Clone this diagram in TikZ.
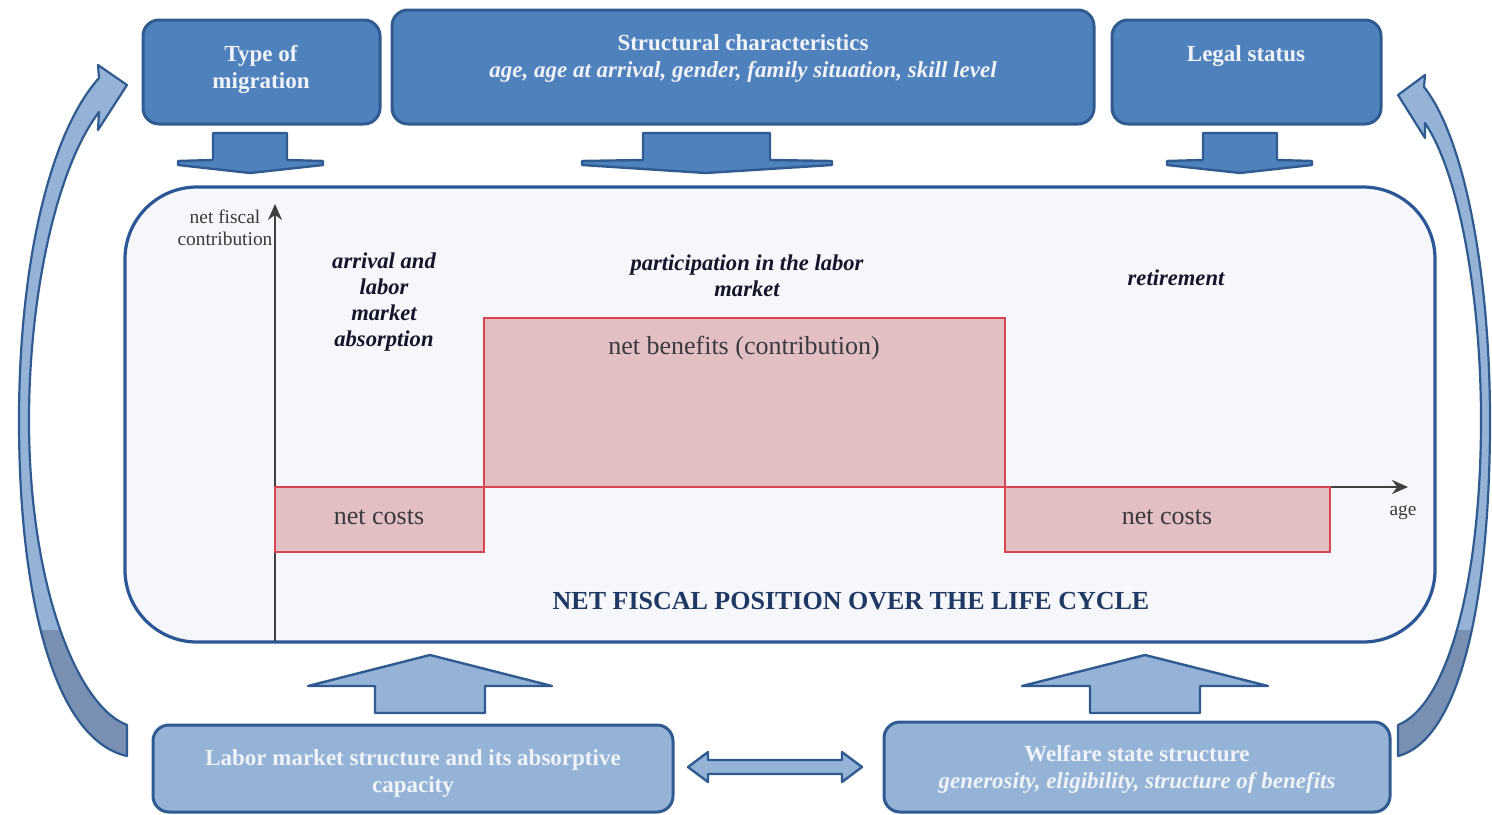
\documentclass[tikz,border=0pt]{standalone}
\usepackage{fontspec}
\setmainfont{Liberation Serif}
\usetikzlibrary{arrows.meta,fit}
\definecolor{boxblue}{HTML}{4F81BD}
\definecolor{lightblue}{HTML}{95B3D7}
\definecolor{edgeblue}{HTML}{2F5B91}
\definecolor{darkback}{HTML}{7A90B3}
\definecolor{panel}{HTML}{F5F7FB}
\definecolor{panelborder}{HTML}{2B5797}
\definecolor{pinkfill}{HTML}{E2BFC3}
\definecolor{redline}{HTML}{D64550}
\definecolor{axisgray}{HTML}{404040}
\definecolor{navy}{HTML}{1F3864}
\definecolor{boxtext}{HTML}{F0F4FA}
\definecolor{phasecol}{HTML}{15152A}
\definecolor{labgray}{HTML}{3A3A3A}
\begin{document}
\begin{tikzpicture}[x=0.5pt,y=-0.5pt,
  topbox/.style={draw=edgeblue, line width=1.5pt, fill=boxblue, rounded corners=8pt, inner sep=0pt},
  botbox/.style={draw=edgeblue, line width=1.5pt, fill=lightblue, rounded corners=8pt, inner sep=0pt},
  panelbox/.style={draw=panelborder, line width=1.6pt, fill=panel, rounded corners=36pt, inner sep=0pt},
  boxlabel/.style={text=boxtext, font=\fontsize{11.5}{13.5}\selectfont\bfseries, align=center, inner sep=0pt},
  phase/.style={font=\fontsize{11.3}{13}\selectfont\bfseries\itshape, align=center, text=phasecol, inner sep=0pt},
  barbox/.style={draw=redline, line width=1pt, fill=pinkfill, inner sep=0pt},
  barlabel/.style={font=\fontsize{13}{15}\selectfont, text=labgray, inner sep=0pt},
  axislabel/.style={font=\fontsize{9.7}{11}\selectfont, text=labgray, align=center, inner sep=0pt},
  axisline/.style={draw=axisgray, line width=1.2pt, -{Stealth[length=8pt,width=7pt]}},
  blockdown/.style={fill=boxblue, draw=edgeblue, line width=1.2pt, line join=round},
  blockup/.style={fill=lightblue, draw=edgeblue, line width=1.2pt, line join=round},
  curvearrow/.style={draw=edgeblue, line width=1.1pt, line join=round}
]
\useasboundingbox (0,0) rectangle (1492,814);

% ---------- top boxes ----------
\node[topbox, fit={(143,20) (380,124)}] (t1) {};
\node[topbox, fit={(392,10) (1094,124)}] (t2) {};
\node[topbox, fit={(1112,20) (1381,124)}] (t3) {};
\node[boxlabel] (t1l) at (261,69) {Type of\\migration};
\node[boxlabel] (t2l) at (743,59) {Structural characteristics\\\itshape age, age at arrival, gender, family situation, skill level};
\node[boxlabel] (t3l) at (1246,56) {Legal status};

% ---------- down block arrows ----------
\path[blockdown] (213,133) -- (287,133) -- (287,160) -- (323,161) -- (323,165) -- (250,173) -- (178,165) -- (178,161) -- (213,160) -- cycle;
\path[blockdown] (643,133) -- (770,133) -- (770,160) -- (832,161) -- (832,165) -- (706,173) -- (582,165) -- (582,161) -- (643,160) -- cycle;
\path[blockdown] (1203,133) -- (1277,133) -- (1277,160) -- (1312,161) -- (1312,165) -- (1240,173) -- (1167,165) -- (1167,161) -- (1203,160) -- cycle;

% ---------- central panel ----------
\node[panelbox, fit={(125,187) (1435,642)}] (panel) {};

\coordinate (origin) at (275,487);
\coordinate (ytop) at (275,204);
\coordinate (ybot) at (275,641);
\coordinate (xend) at (1408,487);
\draw[axisline] (ybot) -- (ytop);
\draw[axisline] (origin) -- (xend);

\node[barbox, fit={(275,487) (484,552)}] (cost1) {};
\node[barbox, fit={(484,318) (1005,487)}] (benefit) {};
\node[barbox, fit={(1005,487) (1330,552)}] (cost2) {};
\node[barlabel] (cost1l) at (379,517) {net costs};
\node[barlabel] (benefitl) at (744,348) {net benefits (contribution)};
\node[barlabel] (cost2l) at (1167,517) {net costs};

\node[axislabel] (ylab) at (225,228) {net fiscal\\contribution};
\node[axislabel] (xlab) at (1403,513) {age};

\node[phase] (ph1) at (384,302) {arrival and\\labor\\market\\absorption};
\node[phase] (ph2) at (747,276) {participation in the labor\\market};
\node[phase] (ph3) at (1176,278) {retirement};

\node[font=\fontsize{13}{15}\selectfont\bfseries, text=navy, inner sep=0pt] (title) at (851,601) {NET FISCAL POSITION OVER THE LIFE CYCLE};

% ---------- up block arrows ----------
\path[blockup] (375,713) -- (375,686) -- (308,686) -- (430,655) -- (552,686) -- (485,686) -- (485,713) -- cycle;
\path[blockup] (1090,713) -- (1090,686) -- (1022,686) -- (1145,655) -- (1268,686) -- (1200,686) -- (1200,713) -- cycle;

% ---------- bottom boxes ----------
\node[botbox, fit={(153,725) (673,812)}] (b1) {};
\node[botbox, fit={(884,722) (1390,812)}] (b2) {};
\node[boxlabel] (b1l) at (413,773) {Labor market structure and its absorptive\\capacity};
\node[boxlabel] (b2l) at (1137,769) {Welfare state structure\\\itshape generosity, eligibility, structure of benefits};

% double arrow between bottom boxes
\path[blockup] (688,767) -- (708,752) -- (708,760) -- (842,760) -- (842,752) -- (862,767) -- (842,782) -- (842,774) -- (708,774) -- (708,782) -- cycle;

% ---------- curved arrows ----------
\def\leftband{(99,78) .. controls (48,135) and (19,270) .. (19,420) .. controls (19,600) and (55,740) .. (127,756) -- (127,725) .. controls (75,705) and (29,580) .. (29,420) .. controls (29,300) and (55,170) .. (99,112) -- (98,130) -- (127,85) -- (98,65) -- cycle}
\def\rightband{(1424,87) .. controls (1466,140) and (1490,280) .. (1490,420) .. controls (1490,600) and (1460,740) .. (1398,756) -- (1398,725) .. controls (1448,705) and (1481,580) .. (1481,420) .. controls (1481,300) and (1460,175) .. (1425,123) -- (1425,138) -- (1398,95) -- (1425,75) -- cycle}
\fill[lightblue] \leftband;
\begin{scope}
\clip \leftband;
\fill[darkback] (0,630) rectangle (140,770);
\end{scope}
\draw[curvearrow] \leftband;
\fill[lightblue] \rightband;
\begin{scope}
\clip \rightband;
\fill[darkback] (1380,630) rectangle (1492,770);
\end{scope}
\draw[curvearrow] \rightband;
\end{tikzpicture}
\end{document}
